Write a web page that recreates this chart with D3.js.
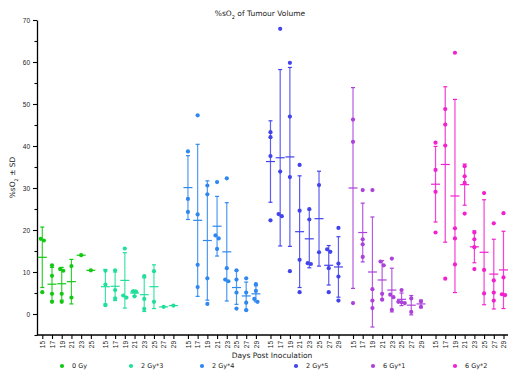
<!DOCTYPE html>
<html>
<head>
<meta charset="utf-8">
<script src="https://cdn.jsdelivr.net/npm/d3@7"></script>
<style>
  body { margin: 0; background: #fff; }
  svg { display: block; font-family: "DejaVu Sans", sans-serif; }
</style>
</head>
<body>
<div id="chart"></div>
<script>
// Nhóm điều trị
const groupNames = ["0 Gy", "2 Gy*3", "2 Gy*4", "2 Gy*5", "6 Gy*1", "6 Gy*2"];
const groupColors = ["#12c912", "#1fdf9a", "#2f88f0", "#4343ec", "#ac40da", "#f220cf"];
const days6 = [15, 17, 19, 21, 23, 25];
const days8 = [15, 17, 19, 21, 23, 25, 27, 29];
const groupDays = [days6, days8, days8, days8, days8, days8];

// Giá trị từng con (%sO2)
const pts0Gy = [[17.9, 17.5, 5.2], [11.6, 9.1, 4.8, 2.9], [10.3, 10.7, 4.8, 2.9], [11.4, 3.9], [14.0], [10.4]];
const pts2Gy3 = [[10.3, 7.0, 2.1], [10.4, 5.7, 3.7], [15.6, 4.4, 3.9], [5.4, 5.3, 4.2], [9.0, 3.6, 1.2], [10.2, 2.9], [1.7], [2.0]];
const pts2Gy4 = [[38.7, 27.4, 24.3], [47.3, 23.7, 11.7, 6.4], [30.6, 28.5, 8.5, 2.4], [31.4, 18.7, 18.0, 15.5], [32.3, 10.9, 7.8, 8.2], [10.4, 8.2, 5.1, 1.3], [8.5, 5.1, 2.7, 0.9], [7.1, 5.5, 3.6, 2.9]];
const pts2Gy5 = [[43.3, 42.1, 37.6, 22.3], [67.9, 33.9, 23.8, 23.3], [59.8, 47.0, 32.6, 10.2], [35.5, 24.6, 12.9, 5.2], [25.0, 22.5, 11.9, 12.1], [30.7, 14.7], [15.4, 14.8, 10.9, 5.2], [20.5, 12.0, 8.9, 3.2]];
const pts6Gy1 = [[46.3, 41.0, 2.6], [29.5, 17.8, 16.6, 13.6], [29.5, 5.9, 3.2, 1.4], [12.5, 11.6, 4.8, 3.4], [13.2, 4.6, 4.0, 1.0], [5.7, 2.9, 2.6, 2.8], [3.7, 0.5], [3.0, 1.7]];
const pts6Gy2 = [[40.8, 34.3, 29.1, 19.4], [48.8, 45.1, 40.1, 8.4], [62.2, 20.4, 18.0, 11.8], [35.2, 32.8, 31.2, 23.9], [19.4, 17.8, 15.9, 10.7], [28.8, 10.5, 4.9], [21.6, 8.0, 5.1, 3.2], [24.0, 8.7, 4.7, 4.5]];

// Trung bình và SD
const mean0Gy = [13.5, 7.1, 7.2, 7.7, 14.0, 10.4];
const sd0Gy = [7.2, 4.0, 3.9, 5.3, 0, 0];
const mean2Gy3 = [6.5, 6.6, 8.0, 5.0, 4.6, 6.5, 1.7, 2.0];
const sd2Gy3 = [4.1, 3.4, 6.6, 0.7, 4.0, 5.2, 0, 0];
const mean2Gy4 = [30.1, 22.3, 17.5, 20.9, 14.8, 6.3, 4.3, 4.8];
const sd2Gy4 = [7.6, 18.1, 14.2, 7.1, 11.7, 4.0, 3.3, 1.9];
const mean2Gy5 = [36.3, 37.2, 37.4, 19.6, 17.9, 22.7, 11.6, 11.2];
const sd2Gy5 = [9.7, 21.0, 21.3, 13.3, 6.9, 11.3, 4.7, 7.2];
const mean6Gy1 = [30.0, 19.4, 10.0, 8.1, 5.7, 3.5, 2.1, 2.4];
const sd6Gy1 = [23.9, 7.0, 13.1, 4.6, 5.2, 1.5, 2.3, 0.9];
const mean6Gy2 = [30.9, 35.6, 28.1, 30.8, 16.0, 14.7, 9.5, 10.5];
const sd6Gy2 = [9.0, 18.5, 23.0, 4.9, 3.8, 12.5, 8.3, 9.2];

const yTicks = [-5, 0, 5, 10, 15, 20, 25, 30, 35, 40, 45, 50, 55, 60, 65, 70];

const allPts = [pts0Gy, pts2Gy3, pts2Gy4, pts2Gy5, pts6Gy1, pts6Gy2];
const allMeans = [mean0Gy, mean2Gy3, mean2Gy4, mean2Gy5, mean6Gy1, mean6Gy2];
const allSds = [sd0Gy, sd2Gy3, sd2Gy4, sd2Gy5, sd6Gy1, sd6Gy2];

const width = 520, height = 379;
const svg = d3.select("#chart").append("svg")
    .attr("width", width).attr("height", height);

// Danh sách cột: khoảng trống giữa các nhóm rộng hơn
const cats = [];
let idx = 0;
groupDays.forEach((days, g) => days.forEach((day, i) => {
    cats.push({ g, i, day, slot: idx + g * 0.5,
        pts: allPts[g][i], mean: allMeans[g][i], sd: allSds[g][i], color: groupColors[g] });
    idx++;
}));

const x = d3.scaleLinear()
    .domain([0, d3.max(cats, c => c.slot)])
    .range([42.3, 503.5]);
const y = d3.scaleLinear().domain([-5, 70]).range([335, 20]);
const axisX0 = 37, axisX1 = 508;

// Trục Y
const gy = svg.append("g")
    .attr("transform", `translate(${axisX0},0)`)
    .call(d3.axisLeft(y).tickValues(yTicks).tickSize(4).tickSizeOuter(0)
        .tickFormat(d => (d >= 0 && d % 10 === 0) ? d : ""));
gy.select(".domain").attr("stroke", "#000").attr("stroke-width", 1.3);
gy.selectAll(".tick line").attr("stroke-width", 1.1)
    .attr("x2", d => (d >= 0 && d % 10 === 0) ? -4 : -2.5);
gy.selectAll(".tick text").attr("x", -7).style("font-size", "6.5px").attr("fill", "#222");

// Trục X
const gx = svg.append("g")
    .attr("transform", `translate(0,${y(-5)})`)
    .call(d3.axisBottom(x).tickValues(cats.map(c => c.slot)).tickSize(4).tickSizeOuter(0)
        .tickFormat((d, i) => cats[i].day));
gx.select(".domain").remove();
gx.append("line").attr("x1", axisX0).attr("x2", axisX1)
    .attr("stroke", "#000").attr("stroke-width", 1.3);
gx.selectAll(".tick line").attr("stroke-width", 1.1);
gx.selectAll(".tick text")
    .attr("transform", "rotate(-90)")
    .attr("text-anchor", "end")
    .attr("x", -6).attr("y", 0).attr("dy", "0.35em")
    .style("font-size", "6.5px").attr("fill", "#222");

// Tiêu đề
const title = svg.append("text")
    .attr("x", 260).attr("y", 16)
    .attr("text-anchor", "middle")
    .style("font-size", "7.5px").attr("fill", "#222");
title.append("tspan").text("%sO");
title.append("tspan").attr("baseline-shift", "sub").style("font-size", "5px").text("2");
title.append("tspan").text(" of Tumour Volume");

const ylab = svg.append("text")
    .attr("transform", `translate(15,${(y(-5) + y(70)) / 2}) rotate(-90)`)
    .attr("text-anchor", "middle")
    .style("font-size", "7.5px").attr("fill", "#222");
ylab.append("tspan").text("%sO");
ylab.append("tspan").attr("baseline-shift", "sub").style("font-size", "5px").text("2");
ylab.append("tspan").text(" ± SD");

svg.append("text")
    .attr("x", 272).attr("y", 358)
    .attr("text-anchor", "middle")
    .style("font-size", "7.5px").attr("fill", "#222")
    .text("Days Post Inoculation");

// Dàn điểm trùng nhau sang ngang
function spread(vals) {
    const order = vals.map((v, k) => k).sort((a, b) => vals[b] - vals[a]);
    const off = new Array(vals.length).fill(0);
    let cluster = [];
    const flush = () => {
        cluster.forEach((k, j) => off[k] = (j - (cluster.length - 1) / 2) * 3.2);
        cluster = [];
    };
    order.forEach(k => {
        if (cluster.length && Math.abs(y(vals[k]) - y(vals[cluster[cluster.length - 1]])) >= 4.4) flush();
        cluster.push(k);
    });
    flush();
    return off;
}

const plot = svg.append("g");
cats.forEach(c => {
    const cx = x(c.slot);
    const g = plot.append("g").attr("stroke", c.color).attr("fill", c.color);
    if (c.sd > 0) {
        g.append("line").attr("x1", cx).attr("x2", cx)
            .attr("y1", y(c.mean + c.sd)).attr("y2", y(c.mean - c.sd))
            .attr("stroke-width", 1.2).attr("stroke-opacity", 0.85);
        [c.mean + c.sd, c.mean - c.sd].forEach(v => {
            g.append("line").attr("x1", cx - 2).attr("x2", cx + 2)
                .attr("y1", y(v)).attr("y2", y(v)).attr("stroke-width", 1.2);
        });
    }
    g.append("line").attr("x1", cx - 4.5).attr("x2", cx + 4.5)
        .attr("y1", y(c.mean)).attr("y2", y(c.mean)).attr("stroke-width", 1.2);
    const off = spread(c.pts);
    g.selectAll("circle").data(c.pts).join("circle")
        .attr("cx", (d, k) => cx + off[k])
        .attr("cy", d => y(d))
        .attr("r", 2.1)
        .attr("stroke", "none");
});

// Chú giải
const legendX = [62, 131, 202, 296, 373, 455];
const legend = svg.append("g").attr("transform", "translate(0,366)");
groupNames.forEach((name, i) => {
    legend.append("circle").attr("cx", legendX[i]).attr("cy", 0).attr("r", 2.1)
        .attr("fill", groupColors[i]);
    legend.append("text").attr("x", legendX[i] + 10).attr("y", 2.4)
        .style("font-size", "6.5px").attr("fill", "#222").text(name);
});
</script>
</body>
</html>
